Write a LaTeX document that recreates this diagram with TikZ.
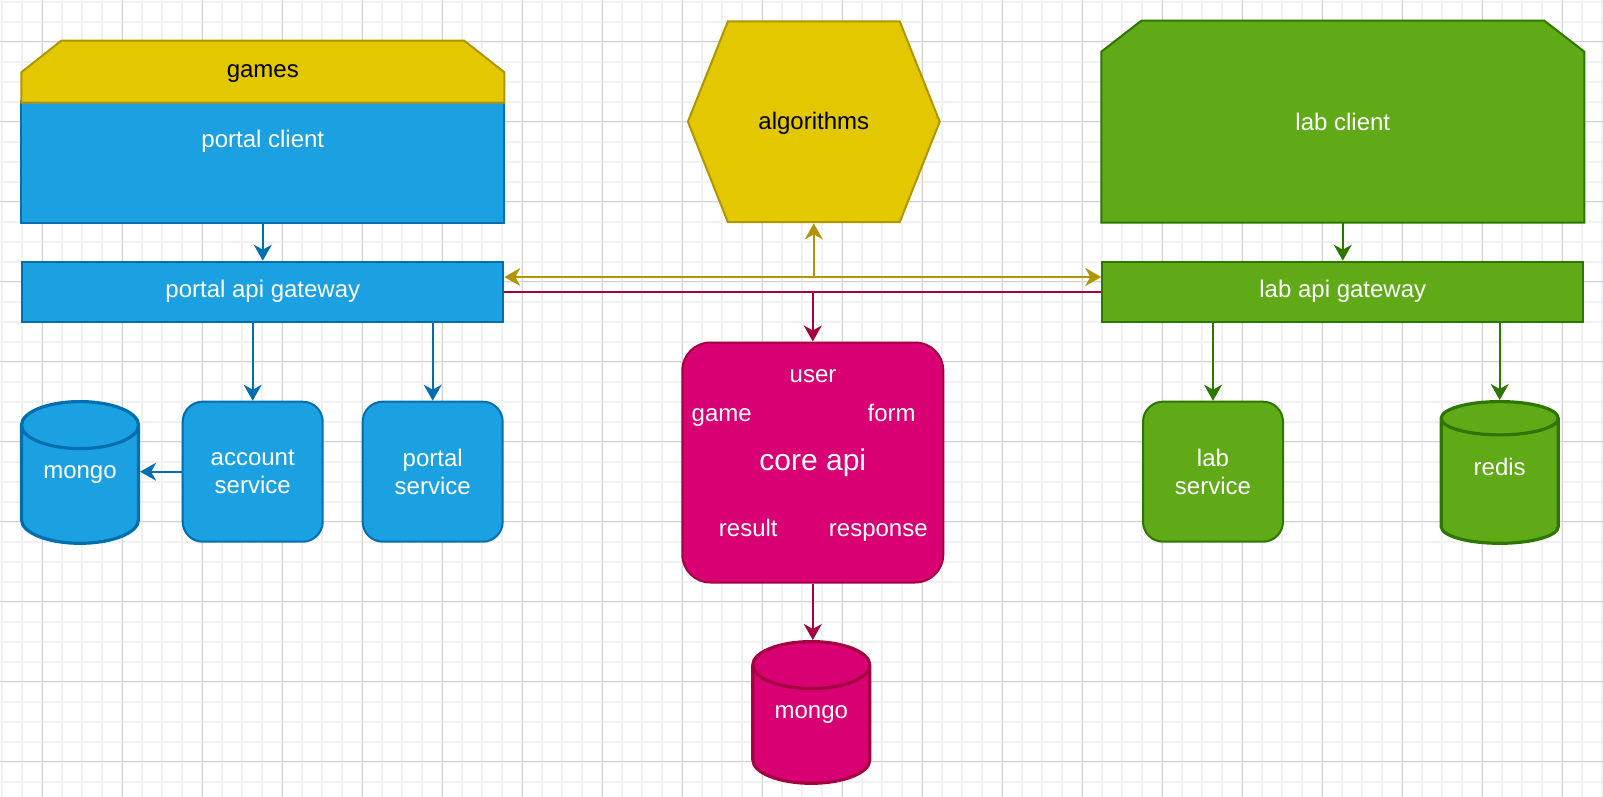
\documentclass[tikz,border=0pt]{standalone}
\usepackage{fontspec}
\setmainfont{Liberation Sans}
\usetikzlibrary{arrows.meta,shapes.geometric,calc,backgrounds}
\definecolor{portalfill}{HTML}{1BA1E2}
\definecolor{portalline}{HTML}{006EAF}
\definecolor{gamesfill}{HTML}{E3C800}
\definecolor{gamesline}{HTML}{B09500}
\definecolor{labfill}{HTML}{60A917}
\definecolor{labline}{HTML}{2D7600}
\definecolor{corefill}{HTML}{D80073}
\definecolor{coreline}{HTML}{A50040}
\definecolor{gridminor}{HTML}{F1F1F1}
\definecolor{gridmajor}{HTML}{D3D3D3}
\begin{document}
\begin{tikzpicture}[x=0.5pt,y=-0.5pt,>={Stealth[length=8pt,width=9pt,inset=2.5pt]},every node/.style={font=\fontsize{12}{14}\selectfont,align=center,inner sep=0pt},oneline/.style={text height=8.6pt,text depth=2.5pt},wide/.style={minimum width=240.5pt,minimum height=30pt,line width=1pt},svc/.style={draw,rounded corners=10pt,minimum width=70pt,minimum height=70pt,line width=1pt,text=white},db/.style={draw,cylinder,shape border rotate=90,aspect=0.64,anchor=north,minimum width=58.5pt,minimum height=70.85pt,line width=1.6pt,text=white,text height=8.6pt,text depth=14.6pt},tag/.style={oneline,text=white},wire/.style={line width=1pt,->}]
\useasboundingbox (0,0) rectangle (1603,797);
% portal side
\node[wide,minimum height=80pt,text=white] (pcl) at (262.8,141.7) {portal client};
\node[wide,oneline] (games) at (262.8,71.7) {games};
\node[wide,draw=portalline,fill=portalfill,text=white] (pgw) at (262.8,291.7) {portal api gateway};
\node[db,draw=portalline,fill=portalfill] (pmongo) at (80,400) {mongo};
\node[svc,draw=portalline,fill=portalfill] (acct) at (252.7,471.7) {account\\service};
\node[svc,draw=portalline,fill=portalfill] (psvc) at (432.7,471.7) {portal\\service};
% middle
\node[minimum width=125.5pt,minimum height=100pt] (algo) at (813.8,123) {algorithms};
\node[svc,draw=coreline,fill=corefill,rounded corners=14pt,minimum width=130.5pt,minimum height=120pt,font=\fontsize{15}{18}\selectfont] (core) at (812.8,462.5) {core api};
\node[tag] (user) at (813,376.7) {user};
\node[tag] (game) at (721.7,415.5) {game};
\node[tag] (form) at (891.7,415.5) {form};
\node[tag] (result) at (748.3,530.5) {result};
\node[tag] (resp) at (878.3,530.5) {response};
\node[db,draw=coreline,fill=corefill] (cmongo) at (811.3,640) {mongo};
% lab side
\node[wide,minimum height=100pt,text=white] (lcl) at (1342.8,121.7) {lab client};
\node[wide,draw=labline,fill=labfill,text=white] (lgw) at (1342.8,291.7) {lab api gateway};
\node[svc,draw=labline,fill=labfill] (lsvc) at (1213,471.7) {lab\\service};
\node[db,draw=labline,fill=labfill] (redis) at (1499.7,400) {redis};
% connectors
\draw[wire,portalline] (pcl.south) -- (pgw.north);
\draw[wire,portalline] (pgw.south -| acct.north) -- (acct.north);
\draw[wire,portalline] (pgw.south -| psvc.north) -- (psvc.north);
\draw[wire,portalline] (acct.west) -- (acct.west -| pmongo.east);
\path ([yshift=7.35pt]pgw.east) coordinate (ya) ([yshift=7.35pt]lgw.west) coordinate (yb);
\draw[wire,<->,gamesline] (ya) -- (yb);
\draw[wire,gamesline] (algo.south |- ya) -- (algo.south);
\draw[line width=1pt,coreline] (pgw.east) -- (lgw.west);
\draw[wire,coreline] (core.north |- pgw.east) -- (core.north);
\draw[wire,coreline] (core.south) -- (core.south |- cmongo.north);
\draw[wire,labline] (lcl.south) -- (lgw.north);
\draw[wire,labline] (lgw.south -| lsvc.north) -- (lsvc.north);
\draw[wire,labline] (lgw.south -| redis.north) -- (redis.north);
\begin{scope}[on background layer]
\foreach \gx in {2.3,22.3,...,1603} \draw[gridminor,line width=1pt] (\gx,0) -- (\gx,797);
\foreach \gy in {1.7,21.7,...,797} \draw[gridminor,line width=1pt] (0,\gy) -- (1603,\gy);
\foreach \gx in {42.3,122.3,...,1603} \draw[gridmajor,line width=0.5pt] (\gx,0) -- (\gx,797);
\foreach \gy in {41.7,121.7,...,797} \draw[gridmajor,line width=0.5pt] (0,\gy) -- (1603,\gy);
\draw[line width=1pt,draw=portalline,fill=portalfill] ($(pcl.north west)+(0,40)$) rectangle (pcl.south east);
\draw[line width=1pt,draw=gamesline,fill=gamesfill] (games.south west) -- ($(games.north west)+(0,31.6)$) -- ($(games.north west)+(40,0)$) -- ($(games.north east)+(-40,0)$) -- ($(games.north east)+(0,31.6)$) -- (games.south east) -- cycle;
\draw[line width=1pt,draw=gamesline,fill=gamesfill] ($(algo.north west)+(40,-1.3)$) -- ($(algo.north east)+(-40,-1.3)$) -- ($(algo.east)+(0,-1.3)$) -- ($(algo.south east)+(-40,-1.3)$) -- ($(algo.south west)+(40,-1.3)$) -- ($(algo.west)+(0,-1.3)$) -- cycle;
\draw[line width=1pt,draw=labline,fill=labfill] (lcl.south west) -- ($(lcl.north west)+(0,31)$) -- ($(lcl.north west)+(40,0)$) -- ($(lcl.north east)+(-40,0)$) -- ($(lcl.north east)+(0,31)$) -- (lcl.south east) -- cycle;
\end{scope}
\end{tikzpicture}
\end{document}
